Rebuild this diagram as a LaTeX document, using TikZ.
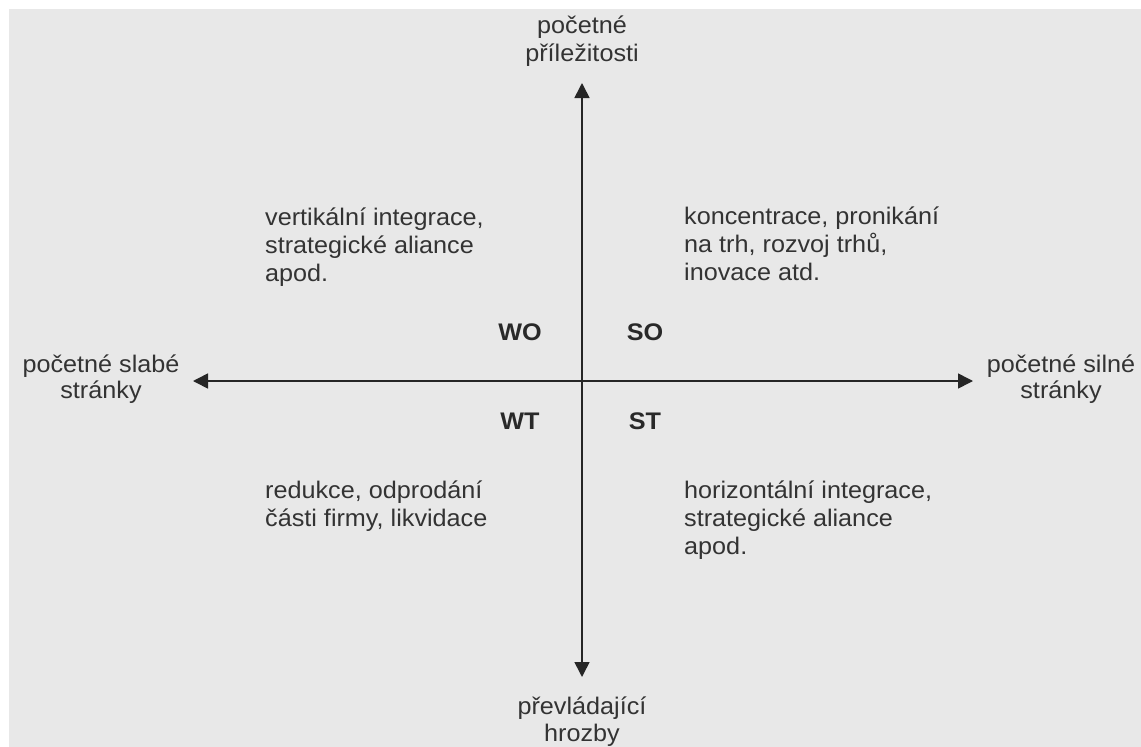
\documentclass[tikz,border=0pt]{standalone}
\usepackage{fontspec}
\setmainfont{Liberation Sans}[FakeStretch=1.05]
\usetikzlibrary{arrows.meta}
\definecolor{bg}{HTML}{E8E8E8}
\definecolor{txt}{HTML}{333333}
\definecolor{axis}{HTML}{262626}
\newcommand{\fls}{\rule{0pt}{22pt}}
\tikzset{
  lbl/.style={inner sep=0pt, text=txt, font=\fontsize{24}{28}\selectfont, anchor=north},
  blk/.style={inner sep=0pt, text=txt, font=\fontsize{24}{28}\selectfont, align=left, anchor=north west},
  quad/.style={inner sep=0pt, text=txt!80!black, font=\fontsize{24}{28}\selectfont\bfseries, anchor=center},
  axisline/.style={draw=axis, line width=1.6pt, -{Triangle[length=15pt,width=15pt]}}
}
\begin{document}
\begin{tikzpicture}[x=1pt,y=-1pt]
\useasboundingbox (0,0) rectangle (1141,747);
\fill[white] (0,0) rectangle (1141,747);
\fill[bg] (9,9) rectangle (1141,747);

\coordinate (c) at (582,381);
\coordinate (top) at (582,83);
\coordinate (bot) at (582,677);
\coordinate (lft) at (193,381);
\coordinate (rgt) at (973,381);

\draw[axisline] (c) -- (top);
\draw[axisline] (c) -- (bot);
\draw[axisline] (c) -- (lft);
\draw[axisline] (c) -- (rgt);

\node[lbl, align=center] (ltop) at (582,11) {\fls početné\\příležitosti};
\node[lbl, align=center, font=\fontsize{24}{27}\selectfont] (lbot) at (582,692) {\fls převládající\\hrozby};
\node[lbl, align=center, font=\fontsize{24}{26}\selectfont] (llft) at (101,350) {\fls početné slabé\\stránky};
\node[lbl, align=center, font=\fontsize{24}{26}\selectfont] (lrgt) at (1061,350) {\fls početné silné\\stránky};

\node[quad] (wo) at (520,332) {WO};
\node[quad] (so) at (645,332) {SO};
\node[quad] (wt) at (520,421) {WT};
\node[quad] (st) at (645,421) {ST};

\node[blk] (tl) at (265,203) {\fls vertikální integrace,\\strategické aliance\\apod.};
\node[blk] (tr) at (684,202) {\fls koncentrace, pronikání\\na trh, rozvoj trhů,\\inovace atd.};
\node[blk] (bl) at (265,476) {\fls redukce, odprodání\\části firmy, likvidace};
\node[blk] (br) at (684,476) {\fls horizontální integrace,\\strategické aliance\\apod.};
\end{tikzpicture}
\end{document}
